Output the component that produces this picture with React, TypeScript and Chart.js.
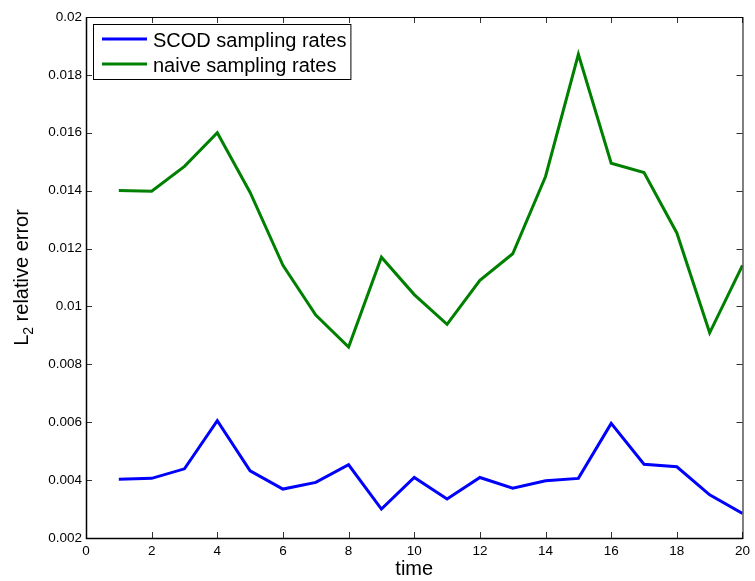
import { useEffect, useRef } from 'react';
import { Chart, registerables } from 'chart.js';

Chart.register(...registerables);

const times = [1, 2, 3, 4, 5, 6, 7, 8, 9, 10, 11, 12, 13, 14, 15, 16, 17, 18, 19, 20];
const scodRates = [0.00403, 0.00406, 0.00439, 0.00605, 0.00432, 0.00369, 0.00392, 0.00453, 0.00300, 0.00409,
  0.00335, 0.00409, 0.00372, 0.00398, 0.00406, 0.00596, 0.00455, 0.00446, 0.00349, 0.00285];
const naiveRates = [0.01401, 0.01398, 0.01484, 0.01600, 0.01394, 0.01142, 0.00970, 0.00860, 0.01170, 0.01041,
  0.00938, 0.01090, 0.01182, 0.01449, 0.01871, 0.01495, 0.01463, 0.01254, 0.00909, 0.01142];
const seriesLabels = ['SCOD sampling rates', 'naive sampling rates'];
const seriesColors = ['#0000ff', '#008000'];
const xTitle = 'time';
const yTitleMain = 'L';
const yTitleSub = '2';
const yTitleRest = ' relative error';

const FONT = '"Liberation Sans", Arial, Helvetica, sans-serif';

const matlabPlugin = {
  id: 'matlabDecor',
  afterDraw(chart: any) {
    const { ctx, chartArea: a, scales } = chart;
    const xs = scales.x;
    const ys = scales.y;
    ctx.save();
    // inward tick marks
    ctx.strokeStyle = '#333333';
    ctx.lineWidth = 1;
    const tl = 6;
    ctx.beginPath();
    xs.ticks.forEach((t: any) => {
      const px = Math.round(xs.getPixelForValue(t.value)) + 0.5;
      ctx.moveTo(px, a.bottom);
      ctx.lineTo(px, a.bottom - tl);
      ctx.moveTo(px, a.top);
      ctx.lineTo(px, a.top + tl);
    });
    ys.ticks.forEach((t: any) => {
      const py = Math.round(ys.getPixelForValue(t.value)) + 0.5;
      ctx.moveTo(a.left, py);
      ctx.lineTo(a.left + tl, py);
      ctx.moveTo(a.right, py);
      ctx.lineTo(a.right - tl, py);
    });
    ctx.stroke();
    // frame
    ctx.strokeStyle = '#000000';
    ctx.lineWidth = 1;
    ctx.strokeRect(a.left + 0.5, a.top + 0.5, a.right - a.left, a.bottom - a.top);
    ctx.lineWidth = 1.5;
    ctx.beginPath();
    ctx.moveTo(a.left + 0.5, a.top);
    ctx.lineTo(a.left + 0.5, a.bottom + 0.5);
    ctx.lineTo(a.right, a.bottom + 0.5);
    ctx.stroke();

    // legend
    ctx.font = `20px ${FONT}`;
    const tw = Math.max(...chart.data.datasets.map((d: any) => ctx.measureText(d.label).width));
    const bx = a.left + 7;
    const by = a.top + 7;
    const bw = 60 + tw + 4;
    const bh = 55;
    ctx.fillStyle = '#ffffff';
    ctx.fillRect(bx, by, bw, bh);
    ctx.strokeStyle = '#000000';
    ctx.lineWidth = 1;
    ctx.strokeRect(bx + 0.5, by + 0.5, bw, bh);
    chart.data.datasets.forEach((d: any, i: number) => {
      const ly = by + 15 + i * 25;
      ctx.strokeStyle = d.borderColor;
      ctx.lineWidth = 3;
      ctx.beginPath();
      ctx.moveTo(bx + 9, ly);
      ctx.lineTo(bx + 54, ly);
      ctx.stroke();
      ctx.fillStyle = '#000000';
      ctx.textBaseline = 'alphabetic';
      ctx.textAlign = 'left';
      ctx.fillText(d.label, bx + 60, by + 23 + i * 24.5);
    });

    // y axis title with subscript
    const cy = (a.top + a.bottom) / 2;
    ctx.translate(28, cy);
    ctx.rotate(-Math.PI / 2);
    ctx.fillStyle = '#000000';
    ctx.textBaseline = 'alphabetic';
    ctx.textAlign = 'left';
    const mainFont = `20px ${FONT}`;
    const subFont = `14px ${FONT}`;
    ctx.font = mainFont;
    const w1 = ctx.measureText(yTitleMain).width;
    const w3 = ctx.measureText(yTitleRest).width;
    ctx.font = subFont;
    const w2 = ctx.measureText(yTitleSub).width;
    let x0 = -(w1 + w2 + w3) / 2;
    ctx.font = mainFont;
    ctx.fillText(yTitleMain, x0, 0);
    x0 += w1;
    ctx.font = subFont;
    ctx.fillText(yTitleSub, x0, 5);
    x0 += w2;
    ctx.font = mainFont;
    ctx.fillText(yTitleRest, x0, 0);
    ctx.restore();
  },
};

export default function App() {
  const ref = useRef<HTMLCanvasElement>(null);
  useEffect(() => {
    document.body.style.margin = '0';
    const tickFont = { family: FONT, size: 13.5 };
    const chart = new Chart(ref.current as HTMLCanvasElement, {
      type: 'line',
      data: {
        datasets: [
          {
            label: seriesLabels[0],
            data: times.map((t, i) => ({ x: t, y: scodRates[i] })),
            borderColor: seriesColors[0],
            backgroundColor: seriesColors[0],
            borderWidth: 3,
            pointRadius: 0,
            tension: 0,
          },
          {
            label: seriesLabels[1],
            data: times.map((t, i) => ({ x: t, y: naiveRates[i] })),
            borderColor: seriesColors[1],
            backgroundColor: seriesColors[1],
            borderWidth: 3,
            pointRadius: 0,
            tension: 0,
          },
        ],
      },
      options: {
        responsive: false,
        animation: false,
        devicePixelRatio: 1,
        layout: { padding: { left: 0, right: 9, top: 17, bottom: 0 } },
        plugins: { legend: { display: false }, tooltip: { enabled: false } },
        scales: {
          x: {
            type: 'linear',
            min: 0,
            max: 20,
            ticks: { stepSize: 2, color: '#000', font: tickFont, padding: 5, maxRotation: 0 },
            grid: { display: false, drawTicks: false },
            border: { display: false },
            title: { display: true, text: xTitle, color: '#000', font: { family: FONT, size: 20 }, padding: { top: 0, bottom: 0 } },
            afterFit: (s: any) => { s.height = 43; },
          },
          y: {
            type: 'linear',
            min: 0.002,
            max: 0.02,
            ticks: {
              stepSize: 0.002,
              color: '#000',
              font: tickFont,
              padding: 4,
              callback: (v: any) => String(Number(Number(v).toFixed(3))),
            },
            grid: { display: false, drawTicks: false },
            border: { display: false },
            afterFit: (s: any) => { s.width = 86; },
          },
        },
      },
      plugins: [matlabPlugin],
    } as any);
    return () => chart.destroy();
  }, []);
  return (
    <div style={{ width: 755, height: 581 }}>
      <canvas ref={ref} width={755} height={581} style={{ display: 'block' }} />
    </div>
  );
}
